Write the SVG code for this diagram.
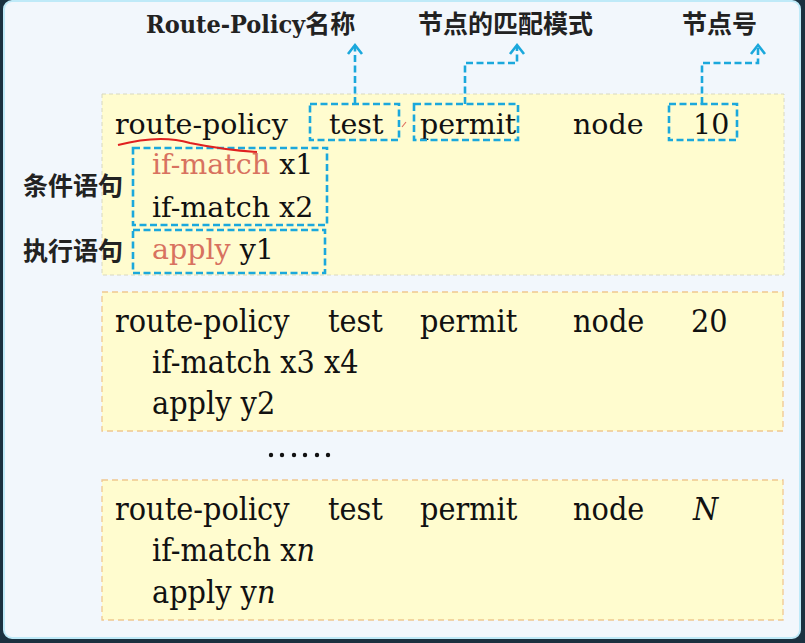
<svg xmlns="http://www.w3.org/2000/svg" width="805" height="643" viewBox="0 0 805 643">
<defs>
<style>
.bg{fill:#f2f7fc;stroke:#bfeaf8;stroke-width:2}
.box1{fill:#fffccf;stroke:#d8d8c0;stroke-width:1;stroke-dasharray:4 3}
.box{fill:#fffccf;stroke:#f0c890;stroke-width:1.3;stroke-dasharray:6 4}
.sel{fill:none;stroke:#1ba8dc;stroke-width:2.6;stroke-dasharray:7 3.5}
.con{fill:none;stroke:#1ba8dc;stroke-width:2.6;stroke-dasharray:7 3.5}
.head{fill:none;stroke:#1ba8dc;stroke-width:2.6}
.t{font-family:"DejaVu Serif",serif;font-size:28.5px;fill:#111}
.tc{font-family:"DejaVu Serif Condensed","DejaVu Serif",serif;font-size:32px;fill:#111}
.hl{fill:#d8725f}
.lab{font-family:"Noto Sans CJK SC","Noto Sans",sans-serif;font-size:25px;font-weight:bold;fill:#222}
.labs{font-family:"DejaVu Serif Condensed","DejaVu Serif",serif;font-size:25px;font-weight:bold;fill:#222}
</style>
</defs>
<rect x="0" y="0" width="805" height="643" fill="#1b3140"/>
<rect class="bg" x="4" y="1" width="796" height="637" rx="8"/>

<g id="node10">
<rect class="box1" x="102" y="94" width="682" height="181"/>
<text class="t" x="115" y="134">route-policy</text>
<text class="t" x="329" y="134">test</text>
<text class="t" x="420" y="134">permit</text>
<text class="t" x="573" y="134">node</text>
<text class="t" x="693" y="134">10</text>
<text class="t" x="152" y="174"><tspan class="hl">if-match</tspan> x1</text>
<text class="t" x="152" y="217">if-match x2</text>
<text class="t" x="152" y="259"><tspan class="hl">apply</tspan> y1</text>
<rect class="sel" x="310" y="104" width="89" height="36"/>
<rect class="sel" x="414" y="104" width="104" height="36"/>
<rect class="sel" x="669" y="104" width="68" height="36"/>
<rect class="sel" x="133" y="148" width="194" height="77"/>
<rect class="sel" x="133" y="230" width="192" height="43"/>
<path d="M118 145 Q160 134 190 143 Q225 150 257 152" fill="none" stroke="#e02020" stroke-width="2"/>
<path d="M402 127 L406 122" fill="none" stroke="#e07060" stroke-width="1.2"/>
</g>

<g id="node20">
<rect class="box" x="102" y="292" width="681" height="139"/>
<text class="tc" x="115" y="332">route-policy</text>
<text class="tc" x="328" y="332">test</text>
<text class="tc" x="420" y="332">permit</text>
<text class="tc" x="573" y="332">node</text>
<text class="tc" x="691" y="332">20</text>
<text class="tc" x="152" y="373">if-match x3 x4</text>
<text class="tc" x="152" y="414">apply y2</text>
</g>

<g id="ellipsis">
<g fill="#111">
<circle cx="271" cy="455" r="2.2"/><circle cx="282" cy="455" r="2.2"/><circle cx="294" cy="455" r="2.2"/>
<circle cx="305" cy="455" r="2.2"/><circle cx="317" cy="455" r="2.2"/><circle cx="328" cy="455" r="2.2"/>
</g>
</g>

<g id="nodeN">
<rect class="box" x="102" y="480" width="681" height="140"/>
<text class="tc" x="115" y="520">route-policy</text>
<text class="tc" x="328" y="520">test</text>
<text class="tc" x="420" y="520">permit</text>
<text class="tc" x="573" y="520">node</text>
<text class="tc" x="693" y="520" font-style="italic">N</text>
<text class="tc" x="152" y="561">if-match x<tspan font-style="italic">n</tspan></text>
<text class="tc" x="152" y="603">apply y<tspan font-style="italic">n</tspan></text>
</g>

<g id="labels">
<text x="146" y="33"><tspan class="labs">Route-Policy</tspan><tspan class="lab">名称</tspan></text>
<text class="lab" x="418" y="33">节点的匹配模式</text>
<text class="lab" x="682" y="33">节点号</text>
<text class="lab" x="23" y="195">条件语句</text>
<text class="lab" x="23" y="260">执行语句</text>
</g>

<g id="connectors">
<path class="con" d="M355 104 V46"/>
<path class="head" d="M348 54 L355 45 L362 54"/>
<path class="con" d="M465 104 V63 H517 V46"/>
<path class="head" d="M510 54 L517 45 L524 54"/>
<path class="con" d="M702 104 V63 H758 V46"/>
<path class="head" d="M751 54 L758 45 L765 54"/>
</g>
</svg>
